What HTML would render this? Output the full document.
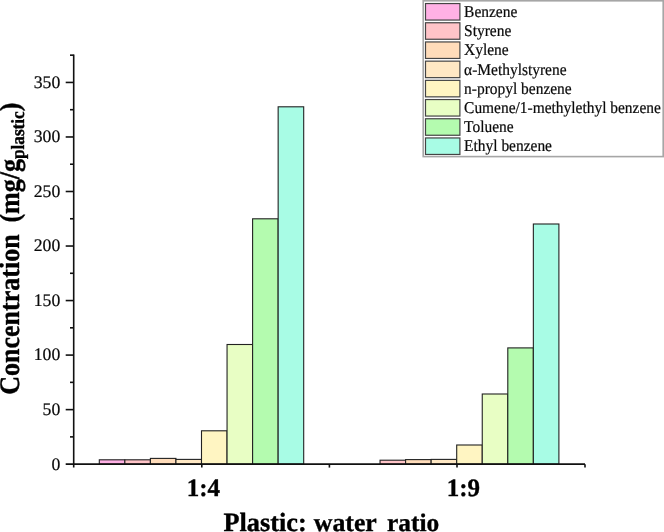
<!DOCTYPE html>
<html><head><meta charset="utf-8"><title>Chart</title>
<style>
html,body{margin:0;padding:0;background:#fff;}
body{width:664px;height:532px;overflow:hidden;}
svg{display:block;}
text{font-family:"Liberation Serif","Times New Roman",serif;fill:#0a0a0a;stroke:#0a0a0a;stroke-width:0.2px;text-rendering:geometricPrecision;}
.b{font-weight:bold;fill:#000;stroke:#000;stroke-width:0.35px;}
</style></head><body>
<svg width="664" height="532" viewBox="0 0 664 532">
<rect width="664" height="532" fill="#fff"/>
<rect x="99.30" y="459.80" width="25.55" height="4.35" fill="#FFB1E5" stroke="#222" stroke-width="1.1"/>
<rect x="124.85" y="459.80" width="25.55" height="4.35" fill="#FFC4C8" stroke="#222" stroke-width="1.1"/>
<rect x="150.40" y="458.40" width="25.55" height="5.75" fill="#FFDCBA" stroke="#222" stroke-width="1.1"/>
<rect x="175.95" y="459.40" width="25.55" height="4.75" fill="#FFE8C4" stroke="#222" stroke-width="1.1"/>
<rect x="201.50" y="430.80" width="25.55" height="33.35" fill="#FFF5C2" stroke="#222" stroke-width="1.1"/>
<rect x="227.05" y="344.50" width="25.55" height="119.65" fill="#E8FEC4" stroke="#222" stroke-width="1.1"/>
<rect x="252.60" y="218.80" width="25.55" height="245.35" fill="#B4FBAF" stroke="#222" stroke-width="1.1"/>
<rect x="278.15" y="106.80" width="25.55" height="357.35" fill="#A8FCE5" stroke="#222" stroke-width="1.1"/>
<rect x="380.05" y="460.20" width="25.55" height="3.95" fill="#FFC4C8" stroke="#222" stroke-width="1.1"/>
<rect x="405.60" y="459.60" width="25.55" height="4.55" fill="#FFDCBA" stroke="#222" stroke-width="1.1"/>
<rect x="431.15" y="459.40" width="25.55" height="4.75" fill="#FFE8C4" stroke="#222" stroke-width="1.1"/>
<rect x="456.70" y="445.00" width="25.55" height="19.15" fill="#FFF5C2" stroke="#222" stroke-width="1.1"/>
<rect x="482.25" y="394.00" width="25.55" height="70.15" fill="#E8FEC4" stroke="#222" stroke-width="1.1"/>
<rect x="507.80" y="347.90" width="25.55" height="116.25" fill="#B4FBAF" stroke="#222" stroke-width="1.1"/>
<rect x="533.35" y="224.00" width="25.55" height="240.15" fill="#A8FCE5" stroke="#222" stroke-width="1.1"/>
<g stroke="#111" stroke-width="1.6" fill="none">
<path d="M73.7 54.6 V467.6"/>
<path d="M65.7 464.15 H585.0"/>
<path d="M70 436.88 H73.7"/>
<path d="M65.7 409.62 H73.7"/>
<path d="M70 382.35 H73.7"/>
<path d="M65.7 355.09 H73.7"/>
<path d="M70 327.82 H73.7"/>
<path d="M65.7 300.56 H73.7"/>
<path d="M70 273.29 H73.7"/>
<path d="M65.7 246.03 H73.7"/>
<path d="M70 218.76 H73.7"/>
<path d="M65.7 191.50 H73.7"/>
<path d="M70 164.23 H73.7"/>
<path d="M65.7 136.97 H73.7"/>
<path d="M70 109.70 H73.7"/>
<path d="M65.7 82.44 H73.7"/>
<path d="M70 55.17 H73.7"/>
<path d="M201.8 464.15 V467.6"/>
<path d="M329.4 464.15 V467.6"/>
<path d="M457.0 464.15 V467.6"/>
<path d="M585.0 464.15 V467.6"/>
</g>
<text x="60.3" y="469.55" font-size="17.7" text-anchor="end">0</text>
<text x="60.3" y="415.02" font-size="17.7" text-anchor="end">50</text>
<text x="60.3" y="360.49" font-size="17.7" text-anchor="end">100</text>
<text x="60.3" y="305.96" font-size="17.7" text-anchor="end">150</text>
<text x="60.3" y="251.43" font-size="17.7" text-anchor="end">200</text>
<text x="60.3" y="196.90" font-size="17.7" text-anchor="end">250</text>
<text x="60.3" y="142.37" font-size="17.7" text-anchor="end">300</text>
<text x="60.3" y="87.84" font-size="17.7" text-anchor="end">350</text>
<text class="b" x="203.4" y="495.8" font-size="25" text-anchor="middle">1:4</text>
<text class="b" x="463.4" y="495.8" font-size="25" text-anchor="middle">1:9</text>
<text class="b" y="531.0" font-size="26"><tspan x="223.5" font-size="26.3">Plastic:</tspan> <tspan x="313.8" font-size="25.8">water</tspan> <tspan x="387.0" font-size="25.4">ratio</tspan></text>
<text class="b" transform="translate(18.6 394.7) rotate(-90) scale(1 1.09)" font-size="26" word-spacing="5.3">Concentration (mg/g<tspan font-size="17.2" dy="5">plastic</tspan><tspan dy="-5">)</tspan></text>
<rect x="423.2" y="0.8" width="240" height="155.8" fill="#fff" stroke="#a6a6a6" stroke-width="1.6"/>
<rect x="425.5" y="3.55" width="34.4" height="16.5" fill="#FFB1E5" stroke="#444" stroke-width="1.2"/>
<text transform="translate(464.1 16.95) scale(1 1.07)" font-size="15.45">Benzene</text>
<rect x="425.5" y="22.75" width="34.4" height="16.5" fill="#FFC4C8" stroke="#444" stroke-width="1.2"/>
<text transform="translate(464.1 36.15) scale(1 1.07)" font-size="15.45">Styrene</text>
<rect x="425.5" y="41.95" width="34.4" height="16.5" fill="#FFDCBA" stroke="#444" stroke-width="1.2"/>
<text transform="translate(464.1 55.35) scale(1 1.07)" font-size="15.45">Xylene</text>
<rect x="425.5" y="61.15" width="34.4" height="16.5" fill="#FFE8C4" stroke="#444" stroke-width="1.2"/>
<text transform="translate(464.1 74.55) scale(1 1.07)" font-size="15.45">α-Methylstyrene</text>
<rect x="425.5" y="80.35" width="34.4" height="16.5" fill="#FFF5C2" stroke="#444" stroke-width="1.2"/>
<text transform="translate(464.1 93.75) scale(1 1.07)" font-size="15.45">n-propyl benzene</text>
<rect x="425.5" y="99.55" width="34.4" height="16.5" fill="#E8FEC4" stroke="#444" stroke-width="1.2"/>
<text transform="translate(464.1 112.95) scale(1 1.07)" font-size="15.45">Cumene/1-methylethyl benzene</text>
<rect x="425.5" y="118.75" width="34.4" height="16.5" fill="#B4FBAF" stroke="#444" stroke-width="1.2"/>
<text transform="translate(464.1 132.15) scale(1 1.07)" font-size="15.45">Toluene</text>
<rect x="425.5" y="137.95" width="34.4" height="16.5" fill="#A8FCE5" stroke="#444" stroke-width="1.2"/>
<text transform="translate(464.1 151.35) scale(1 1.07)" font-size="15.45">Ethyl benzene</text>
</svg>
</body></html>
